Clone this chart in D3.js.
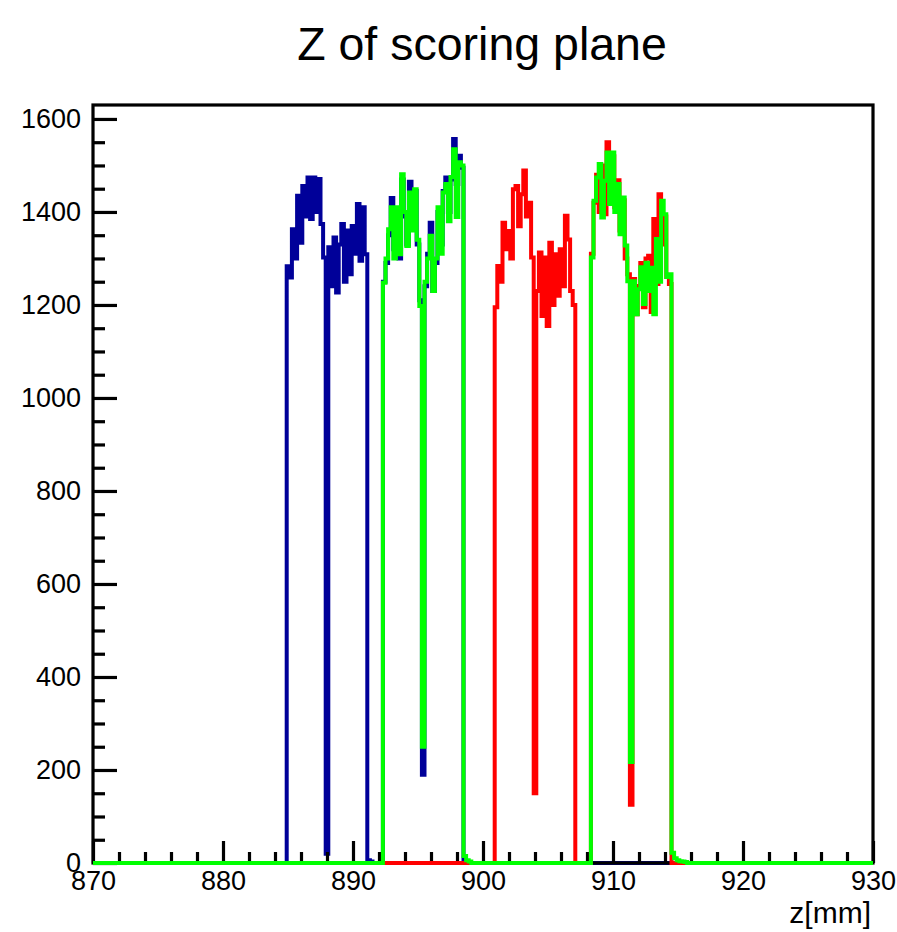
<!DOCTYPE html>
<html>
<head>
<meta charset="utf-8">
<script src="https://cdn.jsdelivr.net/npm/d3@7"></script>
<style>
  html, body { margin: 0; padding: 0; background: #fff; }
  svg { display: block; }
  text { font-family: "Liberation Sans", Helvetica, Arial, sans-serif; fill: #000; }
</style>
</head>
<body>
<svg id="chart" width="897" height="932"></svg>
<script>
// Histogram binning (mm)
const binWidth = 0.2;
const xTicksMajor = [870, 880, 890, 900, 910, 920, 930];
const yTicksMajor = [0, 200, 400, 600, 800, 1000, 1200, 1400, 1600];

// Blue histogram: two filled runs
const blueStarts = [884.9, 892.3];
const blueRunA = [1283, 1259, 1363, 1300, 1435, 1334, 1456, 1390, 1474, 1385, 1474, 1400, 1471, 1374, 1302, 20,
                  1324, 1240, 1345, 1227, 1330, 1374, 1250, 1360, 1266, 1370, 1310, 1417, 1295, 1410, 1309, 6, 3];
const blueRunB = [1250, 1290, 1350, 1430, 1320, 1400, 1300, 1470, 1390, 1330, 1465, 1380, 1445, 1330, 1210, 190,
                  1240, 1310, 1377, 1230, 1290, 1400, 1330, 1445, 1474, 1400, 1470, 1557, 1460, 1521, 1495];

// Red histogram
const redStarts = [900.9, 908.3];
const redRunA = [1195, 1284, 1250, 1377, 1320, 1359, 1300, 1449, 1456, 1369, 1438, 1489, 1390, 1420, 1302, 150,
                 1230, 1313, 1176, 1302, 1155, 1334, 1200, 1309, 1220, 1320, 1240, 1392, 1341, 1230, 1200];
const redRunB = [1310, 1420, 1480, 1400, 1500, 1395, 1550, 1425, 1520, 1410, 1468, 1360, 1425, 1300, 1266, 125,
                 1256, 1180, 1241, 1290, 1195, 1300, 1306, 1185, 1385, 1245, 1438, 1330, 1390, 1260, 1245];

// Green histogram (with the short tails after each run)
const greenStarts = [892.3, 908.3];
const greenRunA = [1248, 1300, 1363, 1410, 1300, 1410, 1309, 1481, 1400, 1327, 1442, 1360, 1449, 1340, 1198, 250,
                   1250, 1300, 1349, 1230, 1300, 1410, 1310, 1442, 1460, 1380, 1475, 1535, 1389, 1507, 1500, 15, 6, 3];
const greenRunB = [1302, 1424, 1474, 1503, 1388, 1467, 1528, 1417, 1528, 1400, 1460, 1352, 1431, 1328, 1251, 217,
                   1251, 1180, 1234, 1281, 1202, 1291, 1230, 1280, 1180, 1342, 1250, 1424, 1395, 1260, 1266, 22, 10, 6, 4, 3, 2];

const series = [
  { name: "blue",  color: "#000099", starts: blueStarts,  runs: [blueRunA, blueRunB] },
  { name: "red",   color: "#ff0000", starts: redStarts,   runs: [redRunA, redRunB] },
  { name: "green", color: "#00ff00", starts: greenStarts, runs: [greenRunA, greenRunB] }
];

const frame = { left: 93, right: 873, top: 105, bottom: 863 };
const x = d3.scaleLinear().domain([870, 930]).range([frame.left, frame.right]);
const y = d3.scaleLinear().domain([0, 1630]).range([frame.bottom, frame.top]);

const svg = d3.select("#chart");
const labelFont = "Liberation Sans, Helvetica, Arial, sans-serif";

// Step outline of a histogram built from its runs of bin contents
function stepPoints(s) {
  const pts = [[870, 0]];
  s.runs.forEach((run, r) => {
    const z0 = s.starts[r];
    pts.push([z0, 0]);
    run.forEach((v, i) => {
      const lo = z0 + i * binWidth;
      pts.push([lo, v], [lo + binWidth, v]);
    });
    pts.push([z0 + run.length * binWidth, 0]);
  });
  pts.push([930, 0]);
  return pts;
}

const line = d3.line().x(d => x(d[0])).y(d => y(d[1]));

function drawHist(s) {
  svg.append("path")
    .datum(stepPoints(s))
    .attr("d", line)
    .attr("fill", "none")
    .attr("stroke", s.color)
    .attr("stroke-width", 4)
    .attr("stroke-linejoin", "miter");
}

// First histogram sits under the frame and axes
drawHist(series[0]);

// Frame
svg.append("rect")
  .attr("x", frame.left).attr("y", frame.top)
  .attr("width", frame.right - frame.left).attr("height", frame.bottom - frame.top)
  .attr("fill", "none").attr("stroke", "#000").attr("stroke-width", 3.2);

// Y axis: major and minor ticks pointing inward
const yMinor = d3.range(0, 1631, 50).filter(v => v % 200 !== 0);
const yAxisMinor = svg.append("g").attr("transform", `translate(${frame.left},0)`)
  .call(d3.axisLeft(y).tickValues(yMinor).tickSize(-12).tickFormat(""));
const yAxis = svg.append("g").attr("transform", `translate(${frame.left},0)`)
  .call(d3.axisLeft(y).tickValues(yTicksMajor).tickSize(-24).tickPadding(12).tickFormat(d3.format("d")));

// X axis
const xMinor = d3.range(872, 930, 2).filter(v => v % 10 !== 0);
const xAxisMinor = svg.append("g").attr("transform", `translate(0,${frame.bottom})`)
  .call(d3.axisBottom(x).tickValues(xMinor).tickSize(-11).tickFormat(""));
const xAxis = svg.append("g").attr("transform", `translate(0,${frame.bottom})`)
  .call(d3.axisBottom(x).tickValues(xTicksMajor).tickSize(-22).tickPadding(8).tickFormat(d3.format("d")));

[yAxisMinor, yAxis, xAxisMinor, xAxis].forEach(g => {
  g.select(".domain").remove();
  g.selectAll(".tick line").attr("stroke", "#000").attr("stroke-width", 3.2);
  g.selectAll(".tick text").attr("font-size", 27).attr("font-family", labelFont).attr("fill", "#000");
});

// Remaining histograms drawn on top
drawHist(series[1]);
drawHist(series[2]);

// Axis title
svg.append("text")
  .attr("x", 871).attr("y", 923)
  .attr("text-anchor", "end")
  .attr("font-size", 30)
  .text("z[mm]");

// Title
svg.append("text")
  .attr("x", 482).attr("y", 60)
  .attr("text-anchor", "middle")
  .attr("font-size", 46.5)
  .text("Z of scoring plane");
</script>
</body>
</html>
